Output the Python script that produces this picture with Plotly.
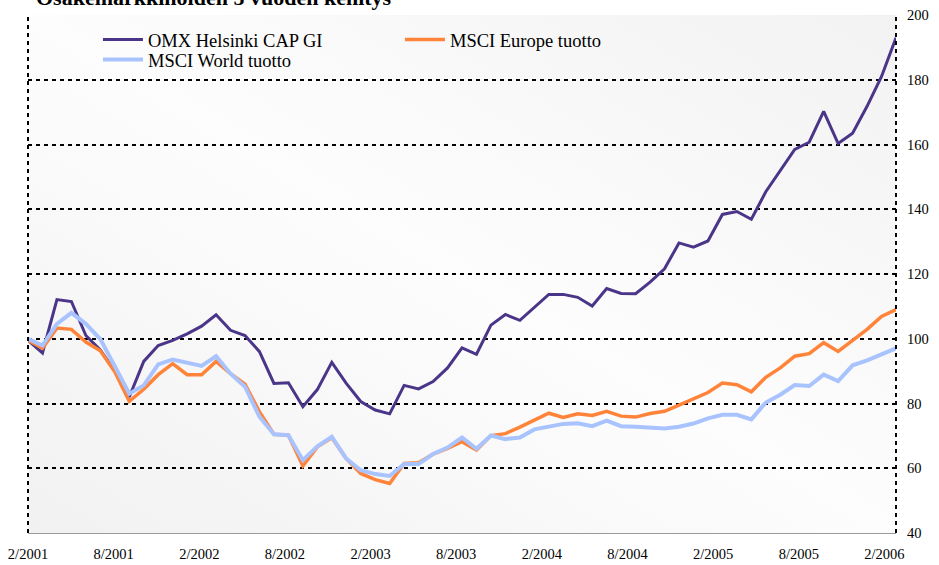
import base64
import plotly.graph_objects as go

# Month categories 2/2001 .. 2/2006
months = [f"{m}/{y}" for y in range(2001, 2007) for m in range(1, 13)]
months = months[months.index("2/2001"):months.index("2/2006") + 1]

tick_labels = ["2/2001", "8/2001", "2/2002", "8/2002", "2/2003", "8/2003",
               "2/2004", "8/2004", "2/2005", "8/2005", "2/2006"]

omx_helsinki = [99.5, 95.6, 112.1, 111.5, 101, 96.5, 90, 82, 93, 97.9,
                99.5, 101.5, 103.9, 107.4, 102.6, 101, 96, 86.2, 86.4, 79,
                84.3, 92.7, 86.2, 80.6, 78, 76.8, 85.6, 84.5, 86.8, 91,
                97.2, 95.2, 104.2, 107.5, 105.7, 109.6, 113.7, 113.7, 112.8, 110.1,
                115.5, 114, 113.9, 117.5, 121.6, 129.6, 128.3, 130.2, 138.4, 139.3,
                136.9, 145.4, 152, 158.5, 160.7, 170.2, 160.3, 163.5, 171.8, 181, 193]

msci_europe = [99.5, 97.1, 103.3, 102.9, 99, 96.3, 89.8, 80.7, 84.4, 88.9,
               92.3, 88.9, 88.9, 93, 89.2, 86, 77.4, 70.5, 70.2, 60.7,
               66.6, 69.4, 63, 58.4, 56.5, 55.3, 61.5, 61.7, 64.4, 66.1,
               68.2, 65.6, 70.1, 70.7, 72.7, 75, 77, 75.7, 76.8, 76.3,
               77.6, 76.1, 75.8, 76.9, 77.6, 79.5, 81.4, 83.4, 86.3, 85.8,
               83.6, 88.1, 91, 94.6, 95.4, 98.8, 96.1, 99.6, 102.9, 106.9, 109]

msci_world = [100, 97.9, 104.6, 108, 104.6, 99.9, 91.5, 83, 85.6, 92.1,
              93.6, 92.6, 91.6, 94.6, 89.2, 85.2, 75.9, 70.5, 70.2, 62.5,
              66.8, 69.7, 63, 59.4, 58.2, 57.6, 61.3, 61.3, 64.4, 66.4,
              69.5, 66, 70.1, 69, 69.5, 72, 73, 73.7, 73.9, 73,
              74.7, 73, 72.8, 72.4, 72.3, 72.8, 73.8, 75.4, 76.5, 76.5,
              75.1, 80.3, 82.7, 85.7, 85.4, 88.9, 86.9, 91.8, 93.3, 95.2, 97]

y_ticks = [40, 60, 80, 100, 120, 140, 160, 180, 200]

FONT = "Liberation Serif, Times New Roman, serif"
x_idx = list(range(len(months)))

fig = go.Figure()
fig.add_trace(go.Scatter(x=x_idx, y=omx_helsinki, mode="lines", name="OMX Helsinki CAP GI",
                         line=dict(color="#4a3588", width=3), legend="legend"))
fig.add_trace(go.Scatter(x=x_idx, y=msci_europe, mode="lines", name="MSCI Europe tuotto",
                         line=dict(color="#ff8338", width=3.5), legend="legend"))
fig.add_trace(go.Scatter(x=x_idx, y=msci_world, mode="lines", name="MSCI World tuotto",
                         line=dict(color="#a9c3ff", width=4), legend="legend2"))

svg = ('<svg xmlns="http://www.w3.org/2000/svg" width="100" height="100" preserveAspectRatio="none">'
       '<defs><linearGradient id="g" x1="0" y1="1" x2="1" y2="0">'
       '<stop offset="0" stop-color="#f1f1f1"/><stop offset="0.5" stop-color="#fdfdfd"/>'
       '<stop offset="1" stop-color="#f2f2f2"/></linearGradient></defs>'
       '<rect width="100" height="100" fill="url(#g)"/></svg>')
src = "data:image/svg+xml;base64," + base64.b64encode(svg.encode()).decode()

tick_pos = [k * 6 * (59.2 / 60) for k in range(len(tick_labels))]

leg_common = dict(orientation="h", xanchor="left", yanchor="middle", x=0.0806,
                  entrywidth=247, font=dict(size=18.5, family=FONT),
                  bgcolor="rgba(0,0,0,0)", itemwidth=40)

fig.update_layout(
    width=939, height=565,
    margin=dict(l=28, r=43, t=15, b=32, autoexpand=False),
    paper_bgcolor="white",
    plot_bgcolor="rgba(0,0,0,0)",
    font=dict(family=FONT, size=14.5, color="black"),
    showlegend=True,
    legend=dict(y=0.9517, **leg_common),
    legend2=dict(y=0.9131, **leg_common),
    images=[dict(source=src, xref="paper", yref="paper", x=0, y=1, sizex=1, sizey=1,
                 sizing="stretch", layer="below", xanchor="left", yanchor="top")],
    annotations=[dict(text="<b>Osakemarkkinoiden 5 vuoden kehitys</b>", xref="paper", yref="paper",
                      x=0, y=1, xanchor="left", yanchor="bottom", xshift=6, yshift=3,
                      showarrow=False, font=dict(size=22, family=FONT))],
    shapes=[
        dict(type="line", xref="paper", yref="paper", x0=0, x1=0, y0=0, y1=1,
             line=dict(color="black", width=2, dash="4px,4px")),
        dict(type="line", xref="paper", yref="paper", x0=1, x1=1, y0=0, y1=1,
             line=dict(color="black", width=2, dash="4px,4px")),
    ],
)

fig.update_xaxes(range=[0, 60], tickmode="array", tickvals=tick_pos, ticktext=tick_labels,
                 showgrid=False, zeroline=False, showline=True, linecolor="#9a9a9a", linewidth=1,
                 ticks="", ticklabelstandoff=8, automargin=False,
                 tickfont=dict(size=14.5, family=FONT))
fig.update_yaxes(range=[40, 200], side="right", tickmode="array", tickvals=y_ticks,
                 showgrid=True, gridcolor="black", gridwidth=2, griddash="4px,4px",
                 zeroline=False, showline=False, ticks="", ticklabelstandoff=10, automargin=False,
                 tickfont=dict(size=14.5, family=FONT))

fig.write_html("out.html", config={"displayModeBar": False},
               post_script="document.body.style.margin='0';document.body.style.overflow='hidden';")
